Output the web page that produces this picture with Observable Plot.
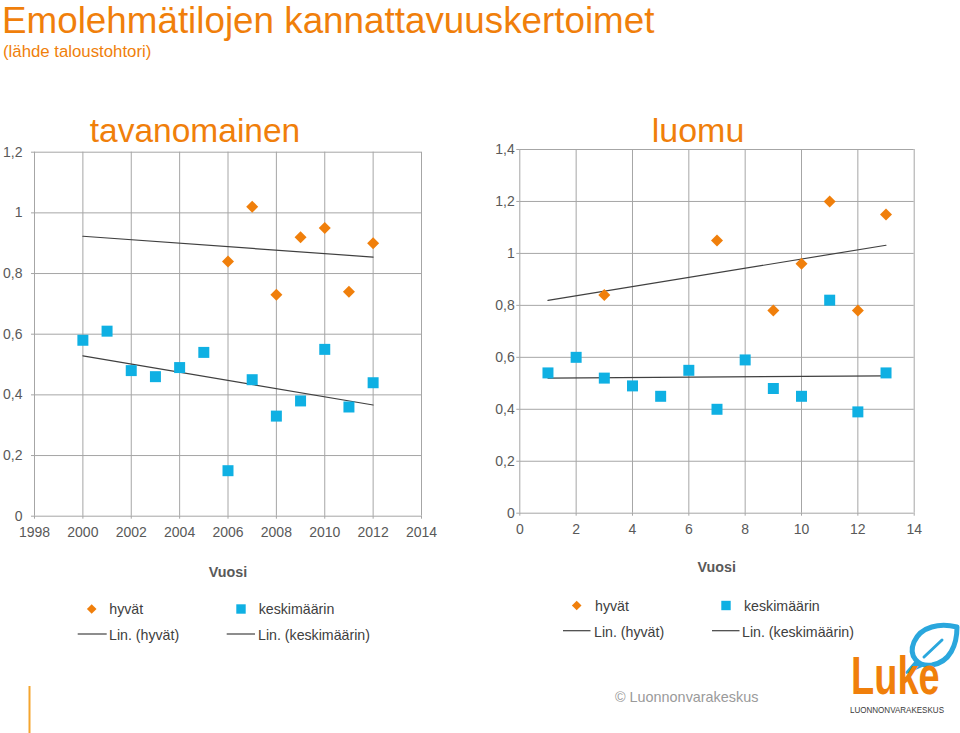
<!DOCTYPE html>
<html><head><meta charset="utf-8">
<script src="https://cdn.jsdelivr.net/npm/d3@7"></script>
<script src="https://cdn.jsdelivr.net/npm/@observablehq/plot@0.6"></script>
<style>
body{margin:0;background:#fff;font-family:"Liberation Sans",Arial,sans-serif;}
#page{position:relative;width:960px;height:733px;overflow:hidden;background:#fff;}
#page > svg{position:absolute;}
</style></head><body><div id="page"></div>
<script>
// ---- tavanomainen (conventional) ----
const convAvgYears = [2000,2001,2002,2003,2004,2005,2006,2007,2008,2009,2010,2011,2012];
const convAverage  = [0.58,0.61,0.48,0.46,0.49,0.54,0.15,0.45,0.33,0.38,0.55,0.36,0.44];
const convGoodYears = [2006,2007,2008,2009,2010,2011,2012];
const convGood      = [0.84,1.02,0.73,0.92,0.95,0.74,0.90];
const convTrendRange = [2000, 2012];
const convXTicks = [1998,2000,2002,2004,2006,2008,2010,2012,2014];
const convYTicks = [0,0.2,0.4,0.6,0.8,1,1.2];

// ---- luomu (organic) ----
const orgAvgX   = [1,2,3,4,5,6,7,8,9,10,11,12,13];
const orgAverage = [0.54,0.60,0.52,0.49,0.45,0.55,0.40,0.59,0.48,0.45,0.82,0.39,0.54];
const orgGoodX  = [3,7,9,10,11,12,13];
const orgGood   = [0.84,1.05,0.78,0.96,1.20,0.78,1.15];
const orgTrendRange = [1, 13];
const orgXTicks = [0,2,4,6,8,10,12,14];
const orgYTicks = [0,0.2,0.4,0.6,0.8,1,1.2,1.4];

const seriesNames = ["hyvät","keskimäärin"];
const trendNames = ["Lin. (hyvät)","Lin. (keskimäärin)"];

const ORANGE = "#F07F0B";
const BLUE = "#0FB0E3";
const GRID = "#a6a6a6";
const TREND = "#404040";
const TEXT = "#595959";
const FONT = '"Liberation Sans", Arial, sans-serif';

const fmtY = d => String(+d.toFixed(1)).replace(".", ",");

function linearTrend(xs, ys, range) {
  const n = xs.length;
  const mx = d3.mean(xs), my = d3.mean(ys);
  let sxy = 0, sxx = 0;
  for (let i = 0; i < n; i++) { sxy += (xs[i]-mx)*(ys[i]-my); sxx += (xs[i]-mx)**2; }
  const b = sxy / sxx, a = my - b*mx;
  return range.map(x => ({x, y: a + b*x}));
}

function chart(o) {
  const good = o.goodX.map((x,i) => ({x, y: o.good[i]}));
  const avg = o.avgX.map((x,i) => ({x, y: o.avg[i]}));
  const svg = Plot.plot({
    width: o.width, height: o.height,
    marginLeft: o.ml, marginRight: o.mr, marginTop: o.mt, marginBottom: o.mb,
    x: {domain: o.xDomain},
    y: {domain: o.yDomain},
    style: {fontFamily: FONT, fontSize: "14px", color: TEXT, background: "transparent", overflow: "visible"},
    marks: [
      Plot.gridX({ticks: o.xTicks, stroke: GRID, strokeOpacity: 1, strokeWidth: 1}),
      Plot.gridY({ticks: o.yTicks, stroke: GRID, strokeOpacity: 1, strokeWidth: 1}),
      Plot.axisX({ticks: o.xTicks, tickSize: 3, tickPadding: 8, stroke: GRID, fill: TEXT, tickFormat: d => String(d), label: null, fontSize: 14}),
      Plot.axisY({ticks: o.yTicks, tickSize: 3, tickPadding: o.yPad, stroke: GRID, fill: TEXT, tickFormat: fmtY, label: null, fontSize: 14}),
      Plot.line(linearTrend(o.goodX, o.good, o.trendRange), {x: "x", y: "y", stroke: TREND, strokeWidth: 1.2}),
      Plot.line(linearTrend(o.avgX, o.avg, o.trendRange), {x: "x", y: "y", stroke: TREND, strokeWidth: 1.2}),
      Plot.dot(avg, {x: "x", y: "y", symbol: "square", r: 6.2, fill: BLUE, stroke: "none"}),
      Plot.dot(good, {x: "x", y: "y", symbol: "diamond2", r: 5.4, fill: ORANGE, stroke: "none"})
    ]
  });
  svg.style.left = o.left + "px";
  svg.style.top = o.top + "px";
  return svg;
}

const page = document.getElementById("page");

page.appendChild(chart({
  left: 0, top: 140, width: 440, height: 420,
  ml: 34, mr: 19, mt: 11.7, mb: 44.3, yPad: 9,
  xDomain: [1998, 2014], yDomain: [0, 1.2],
  xTicks: convXTicks, yTicks: convYTicks,
  goodX: convGoodYears, good: convGood, avgX: convAvgYears, avg: convAverage,
  trendRange: convTrendRange
}));

page.appendChild(chart({
  left: 470, top: 140, width: 480, height: 420,
  ml: 49.3, mr: 36.3, mt: 9, mb: 47.3, yPad: 2,
  xDomain: [0, 14], yDomain: [0, 1.4],
  xTicks: orgXTicks, yTicks: orgYTicks,
  goodX: orgGoodX, good: orgGood, avgX: orgAvgX, avg: orgAverage,
  trendRange: orgTrendRange
}));

// ---- overlay: titles, legends, footer ----
const ov = d3.select(page).append("svg")
  .attr("width", 960).attr("height", 733)
  .style("left", "0px").style("top", "0px")
  .style("pointer-events", "none")
  .attr("font-family", FONT);

ov.append("text").attr("x", 2).attr("y", 33.3).attr("font-size", 36.8).attr("fill", ORANGE)
  .text("Emolehmätilojen kannattavuuskertoimet");
ov.append("text").attr("x", 3).attr("y", 56.5).attr("font-size", 16.8).attr("fill", ORANGE)
  .text("(lähde taloustohtori)");

ov.append("text").attr("x", 195).attr("y", 142).attr("text-anchor", "middle").attr("font-size", 33.5).attr("fill", ORANGE)
  .text("tavanomainen");
ov.append("text").attr("x", 698).attr("y", 142).attr("text-anchor", "middle").attr("font-size", 34).attr("fill", ORANGE)
  .text("luomu");

ov.append("text").attr("x", 228).attr("y", 576.7).attr("text-anchor", "middle").attr("font-size", 14.3).attr("font-weight", "bold").attr("fill", TEXT)
  .text("Vuosi");
ov.append("text").attr("x", 716.7).attr("y", 572.3).attr("text-anchor", "middle").attr("font-size", 14.3).attr("font-weight", "bold").attr("fill", TEXT)
  .text("Vuosi");

function legend(g) {
  const L = ov.append("g");
  const d = 4.8;
  L.append("path").attr("d", `M${g.dx},${g.y1-d}L${g.dx+d},${g.y1}L${g.dx},${g.y1+d}L${g.dx-d},${g.y1}Z`).attr("fill", ORANGE);
  L.append("text").attr("x", g.t1).attr("y", g.y1 + 5.3).attr("font-size", 14.2).attr("fill", "#404040").text(seriesNames[0]);
  L.append("rect").attr("x", g.sx - 4.7).attr("y", g.y1 - 4.7).attr("width", 9.4).attr("height", 9.4).attr("fill", BLUE);
  L.append("text").attr("x", g.t2).attr("y", g.y1 + 5.3).attr("font-size", 14.2).attr("fill", "#404040").text(seriesNames[1]);
  L.append("line").attr("x1", g.l1[0]).attr("x2", g.l1[1]).attr("y1", g.y2).attr("y2", g.y2).attr("stroke", TREND).attr("stroke-width", 1.2);
  L.append("text").attr("x", g.t3).attr("y", g.y2 + 6).attr("font-size", 14.2).attr("fill", "#404040").text(trendNames[0]);
  L.append("line").attr("x1", g.l2[0]).attr("x2", g.l2[1]).attr("y1", g.y2).attr("y2", g.y2).attr("stroke", TREND).attr("stroke-width", 1.2);
  L.append("text").attr("x", g.t4).attr("y", g.y2 + 6).attr("font-size", 14.2).attr("fill", "#404040").text(trendNames[1]);
}
legend({dx: 91.7, sx: 241, y1: 609, t1: 109.3, t2: 258.7, y2: 634, l1: [77.7, 106.7], t3: 109, l2: [226.7, 255], t4: 258});
legend({dx: 576.7, sx: 726, y1: 605.5, t1: 595, t2: 744, y2: 630.7, l1: [563, 590.5], t3: 594, l2: [712, 739.5], t4: 742});

ov.append("text").attr("x", 615).attr("y", 702).attr("font-size", 14.4).attr("fill", "#9a9a9a")
  .text("© Luonnonvarakeskus");

// left accent line
ov.append("line").attr("x1", 29.5).attr("x2", 29.5).attr("y1", 686).attr("y2", 733).attr("stroke", "#F4A52E").attr("stroke-width", 2);

// Luke logo
const logo = ov.append("g");
logo.append("path")
  .attr("d", "M957,627 C940,623 921,626 914,642 C908,656 918,667 932,665 C950,662 957,645 957,627 Z")
  .attr("fill", "none").attr("stroke", "#2AA7DD").attr("stroke-width", 5).attr("stroke-linejoin", "round");
logo.append("path").attr("d", "M917,660 L906,673 L924,665").attr("fill", "#2AA7DD").attr("stroke", "#2AA7DD").attr("stroke-width", 2);
logo.append("path").attr("d", "M924,657 L942,640").attr("stroke", "#2AA7DD").attr("stroke-width", 3).attr("stroke-linecap", "round");
logo.append("g").attr("transform", "translate(851,694) scale(0.76,1.08)")
  .append("text").attr("x", 0).attr("y", 0).attr("font-size", 50).attr("font-weight", "bold")
  .attr("fill", ORANGE).text("Luke");
logo.append("g").attr("transform", "translate(850,713) scale(0.82,1)")
  .append("text").attr("x", 0).attr("y", 0).attr("font-size", 9.8)
  .attr("fill", "#3a3a3a").text("LUONNONVARAKESKUS");
</script>
</body></html>
